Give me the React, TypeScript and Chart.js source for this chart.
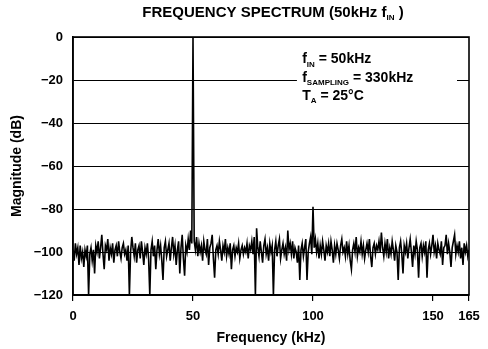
import React, { useEffect, useRef } from "react";
import { Chart, registerables } from "chart.js";

Chart.register(...registerables);

// Frequency step between FFT bins (kHz)
const STEP_KHZ = 0.5;

// Magnitude (dB) for each bin (0 .. 165 kHz, 0.5 kHz apart)
const MAG_DB: number[] = [
  // 0-10 kHz
  -99, -104, -96, -101, -98, -106, -97, -103, -100, -107, -99, -102, -97, -120, -101, -98, -104, -99, -110, -97,
  // 10-20
  -100, -95, -103, -98, -92, -101, -108, -97, -99, -94, -104, -98, -101, -96, -105, -99, -97, -102, -95, -100,
  // 20-30
  -103, -98, -96, -101, -99, -104, -97, -120, -100, -93, -98, -102, -96, -105, -99, -97, -103, -95, -100, -106,
  // 30-40
  -98, -101, -96, -103, -120, -99, -95, -102, -97, -108, -99, -94, -101, -97, -104, -113, -98, -95, -102, -99,
  // 40-50
  -96, -104, -98, -93, -101, -97, -106, -99, -95, -110, -98, -92, -103, -111, -97, -100, -94, -99, -90, -96,
  // 50 kHz fundamental
  0,
  // 50.5-60
  -95, -99, -93, -102, -96, -100, -97, -104, -95, -99, -101, -94, -106, -98, -96, -92, -103, -112, -99,
  // 60-70
  -97, -101, -95, -99, -104, -97, -100, -94, -102, -98, -101, -96, -108, -99, -97, -102, -98, -100, -96, -103,
  // 70-80
  -99, -97, -101, -98, -100, -96, -103, -97, -99, -95, -101, -93, -120, -89, -98, -102, -95, -100, -105, -97,
  // 80-90
  -94, -101, -98, -104, -96, -100, -97, -120, -99, -95, -102, -97, -94, -103, -99, -96, -101, -98, -104, -90,
  // 90-100
  -99, -96, -101, -95, -103, -98, -100, -105, -97, -113, -99, -96, -102, -98, -94, -113, -100, -96, -93, -101,
  // 100 kHz harmonic
  -79,
  // 100.5-110
  -98, -94, -100, -96, -103, -97, -101, -95, -99, -104, -97, -100, -96, -102, -95, -99, -105, -97, -101,
  // 110-120
  -96, -99, -103, -97, -94, -100, -98, -102, -95, -101, -97, -104, -108, -99, -96, -100, -93, -102, -98, -100,
  // 120-130
  -95, -101, -97, -103, -99, -96, -100, -94, -102, -107, -98, -96, -101, -97, -99, -95, -100, -91, -98, -102,
  // 130-140
  -96, -100, -94, -103, -98, -101, -95, -99, -104, -97, -100, -113, -98, -95, -101, -110, -97, -100, -96, -103,
  // 140-150
  -98, -94, -100, -107, -97, -101, -95, -99, -112, -98, -96, -102, -97, -100, -95, -112, -99, -96, -101, -97,
  // 150-160
  -92, -100, -97, -103, -96, -99, -101, -95, -106, -98, -97, -92, -101, -96, -100, -107, -98, -95, -92, -101,
  // 160-165
  -97, -100, -95, -103, -98, -106, -96, -100, -97, -102, -99,
];

const X_TICKS = [0, 50, 100, 150, 165];
const X_MIN = 0;
const X_MAX = 165;
const Y_MIN = -120;
const Y_MAX = 0;
const Y_STEP = 20;

const TITLE_PARTS = [
  { t: "FREQUENCY SPECTRUM (50kHz f", sub: false },
  { t: "IN", sub: true },
  { t: " )", sub: false },
];
const X_TITLE = "Frequency (kHz)";
const Y_TITLE = "Magnitude (dB)";
const NOTE_LINES = [
  [{ t: "f", sub: false }, { t: "IN", sub: true }, { t: " = 50kHz", sub: false }],
  [{ t: "f", sub: false }, { t: "SAMPLING", sub: true }, { t: " = 330kHz", sub: false }],
  [{ t: "T", sub: false }, { t: "A", sub: true }, { t: " = 25°C", sub: false }],
];

const FONT_FAMILY = '"Liberation Sans", Arial, Helvetica, sans-serif';

type Part = { t: string; sub: boolean };

function drawRich(
  ctx: CanvasRenderingContext2D,
  parts: Part[],
  x: number,
  y: number,
  size: number,
  align: "left" | "center"
) {
  const subSize = Math.round(size * 0.55);
  const widths = parts.map((p) => {
    ctx.font = `bold ${p.sub ? subSize : size}px ${FONT_FAMILY}`;
    return ctx.measureText(p.t).width;
  });
  const total = widths.reduce((a, b) => a + b, 0);
  let cx = align === "center" ? x - total / 2 : x;
  ctx.textAlign = "left";
  ctx.textBaseline = "middle";
  parts.forEach((p, i) => {
    ctx.font = `bold ${p.sub ? subSize : size}px ${FONT_FAMILY}`;
    ctx.fillText(p.t, cx, p.sub ? y + size * 0.35 : y);
    cx += widths[i];
  });
}

const decorPlugin = {
  id: "decor",
  afterDraw(chart: any) {
    const ctx: CanvasRenderingContext2D = chart.ctx;
    const { left, right, top, bottom } = chart.chartArea;
    const xs = chart.scales.x;
    const ys = chart.scales.y;
    ctx.save();
    // frame
    ctx.strokeStyle = "#000";
    ctx.lineWidth = 1.6;
    ctx.strokeRect(left, top, right - left, bottom - top);

    // annotation box (hides gridline behind text)
    const bx0 = xs.getPixelForValue(93.3);
    const bx1 = xs.getPixelForValue(160);
    const by0 = ys.getPixelForValue(-13);
    const by1 = ys.getPixelForValue(-25);
    ctx.fillStyle = "#fff";
    ctx.fillRect(bx0, by0, bx1 - bx0, by1 - by0);

    ctx.fillStyle = "#000";
    const tx = xs.getPixelForValue(95.5);
    const lineVals = [-10.5, -19, -27.3];
    NOTE_LINES.forEach((ln, i) => {
      drawRich(ctx, ln, tx, ys.getPixelForValue(lineVals[i]), 14, "left");
    });

    // chart title
    drawRich(ctx, TITLE_PARTS, (left + right) / 2 + 2, 13, 15, "center");

    // axis titles
    ctx.font = `bold 14px ${FONT_FAMILY}`;
    ctx.textAlign = "center";
    ctx.textBaseline = "middle";
    ctx.fillText(X_TITLE, (left + right) / 2, 338);
    ctx.save();
    ctx.translate(17, (top + bottom) / 2);
    ctx.rotate(-Math.PI / 2);
    ctx.fillText(Y_TITLE, 0, 0);
    ctx.restore();
    ctx.restore();
  },
};

export default function App() {
  const ref = useRef<HTMLCanvasElement>(null);
  useEffect(() => {
    document.body.style.margin = "0";
    const canvas = ref.current;
    if (!canvas) return;
    const points = MAG_DB.map((v, i) => ({ x: i * STEP_KHZ, y: v }));
    const chart = new Chart(canvas, {
      type: "line",
      data: {
        datasets: [
          {
            data: points,
            borderColor: "#000",
            borderWidth: 1.6,
            pointRadius: 0,
            tension: 0,
            fill: false,
          },
        ],
      },
      options: {
        animation: false,
        responsive: false,
        devicePixelRatio: 1,
        layout: { padding: { top: 37, right: 19, left: 0, bottom: 0 } },
        plugins: {
          legend: { display: false },
          title: { display: false },
          tooltip: { enabled: false },
        },
        scales: {
          x: {
            type: "linear",
            min: X_MIN,
            max: X_MAX,
            afterBuildTicks: (scale: any) => {
              scale.ticks = X_TICKS.map((v) => ({ value: v }));
            },
            afterFit: (scale: any) => {
              scale.height = 54;
            },
            ticks: {
              color: "#000",
              font: { family: FONT_FAMILY, size: 13, weight: "bold" },
              padding: 8,
              maxRotation: 0,
              autoSkip: false,
              callback: (v: any) => String(v),
            },
            grid: {
              drawOnChartArea: false,
              drawTicks: true,
              tickLength: 6,
              color: "#000",
              lineWidth: 1.2,
            },
            border: { display: true, color: "#000", width: 1.6 },
          },
          y: {
            type: "linear",
            min: Y_MIN,
            max: Y_MAX,
            afterFit: (scale: any) => {
              scale.width = 73;
            },
            ticks: {
              stepSize: Y_STEP,
              color: "#000",
              font: { family: FONT_FAMILY, size: 13, weight: "bold" },
              padding: 10,
              callback: (v: any) => (Number(v) < 0 ? "\u2212" + Math.abs(Number(v)) : String(v)),
            },
            grid: {
              drawTicks: false,
              color: "#000",
              lineWidth: 1,
            },
            border: { display: true, color: "#000", width: 1.6 },
          },
        },
      },
      plugins: [decorPlugin],
    } as any);
    return () => chart.destroy();
  }, []);
  return (
    <div style={{ width: 488, height: 349, background: "#fff" }}>
      <canvas ref={ref} width={488} height={349} style={{ display: "block" }} />
    </div>
  );
}
